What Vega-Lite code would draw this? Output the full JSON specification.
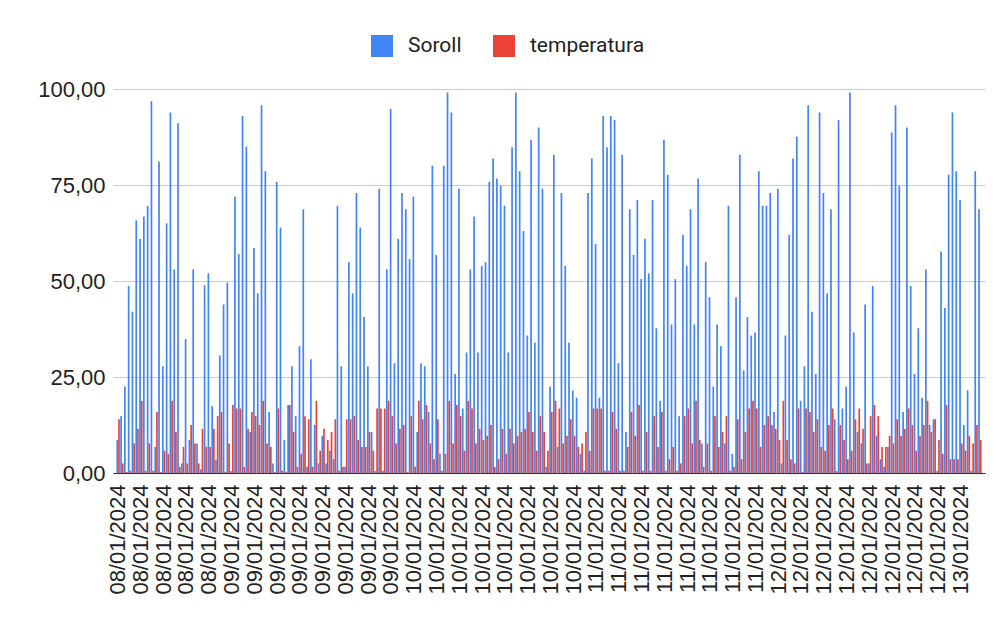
{
"$schema": "https://vega.github.io/schema/vega-lite/v6.json",
"width": 872, "height": 384,
"autosize": {"type": "none"},
"padding": {"left": 113, "top": 89, "right": 17, "bottom": 151},
"background": "white",
"data": {"values": [
{"t":"08/01/2024 000","Soroll":8.6,"temperatura":14.0},
{"t":"08/01/2024 001","Soroll":14.8,"temperatura":2.5},
{"t":"08/01/2024 002","Soroll":22.5,"temperatura":0.3},
{"t":"08/01/2024 003","Soroll":48.7,"temperatura":0.6},
{"t":"08/01/2024 004","Soroll":42.0,"temperatura":7.7},
{"t":"08/01/2024 005","Soroll":65.8,"temperatura":11.5},
{"t":"08/01/2024 006","Soroll":61.0,"temperatura":18.8},
{"t":"08/01/2024 007","Soroll":66.8,"temperatura":0.6},
{"t":"08/01/2024 008","Soroll":69.6,"temperatura":7.7},
{"t":"08/01/2024 009","Soroll":96.8,"temperatura":0.6},
{"t":"08/01/2024 010","Soroll":6.8,"temperatura":15.9},
{"t":"08/01/2024 011","Soroll":81.1,"temperatura":0.3},
{"t":"08/01/2024 012","Soroll":27.8,"temperatura":5.8},
{"t":"08/01/2024 013","Soroll":65.0,"temperatura":5.0},
{"t":"08/01/2024 014","Soroll":93.9,"temperatura":18.8},
{"t":"08/01/2024 015","Soroll":53.0,"temperatura":10.7},
{"t":"08/01/2024 016","Soroll":91.1,"temperatura":1.6},
{"t":"08/01/2024 017","Soroll":2.5,"temperatura":6.8},
{"t":"08/01/2024 018","Soroll":34.9,"temperatura":2.5},
{"t":"08/01/2024 019","Soroll":8.6,"temperatura":12.5},
{"t":"08/01/2024 020","Soroll":53.0,"temperatura":7.7},
{"t":"08/01/2024 021","Soroll":7.7,"temperatura":2.5},
{"t":"08/01/2024 022","Soroll":1.0,"temperatura":11.5},
{"t":"08/01/2024 023","Soroll":48.9,"temperatura":6.8},
{"t":"08/01/2024 024","Soroll":52.0,"temperatura":6.8},
{"t":"08/01/2024 025","Soroll":17.4,"temperatura":11.5},
{"t":"08/01/2024 026","Soroll":3.5,"temperatura":14.8},
{"t":"08/01/2024 027","Soroll":30.6,"temperatura":15.9},
{"t":"08/01/2024 028","Soroll":43.9,"temperatura":0.3},
{"t":"08/01/2024 029","Soroll":49.6,"temperatura":7.7},
{"t":"09/01/2024 030","Soroll":0.5,"temperatura":17.7},
{"t":"09/01/2024 031","Soroll":72.0,"temperatura":16.8},
{"t":"09/01/2024 032","Soroll":57.0,"temperatura":16.8},
{"t":"09/01/2024 033","Soroll":93.0,"temperatura":1.6},
{"t":"09/01/2024 034","Soroll":85.0,"temperatura":11.5},
{"t":"09/01/2024 035","Soroll":10.7,"temperatura":15.9},
{"t":"09/01/2024 036","Soroll":58.6,"temperatura":14.8},
{"t":"09/01/2024 037","Soroll":46.8,"temperatura":12.5},
{"t":"09/01/2024 038","Soroll":95.8,"temperatura":18.8},
{"t":"09/01/2024 039","Soroll":78.6,"temperatura":7.7},
{"t":"09/01/2024 040","Soroll":15.9,"temperatura":6.8},
{"t":"09/01/2024 041","Soroll":2.5,"temperatura":0.3},
{"t":"09/01/2024 042","Soroll":75.8,"temperatura":16.8},
{"t":"09/01/2024 043","Soroll":63.9,"temperatura":0.6},
{"t":"09/01/2024 044","Soroll":8.6,"temperatura":0.3},
{"t":"09/01/2024 045","Soroll":17.7,"temperatura":17.7},
{"t":"09/01/2024 046","Soroll":27.8,"temperatura":10.7},
{"t":"09/01/2024 047","Soroll":14.8,"temperatura":1.6},
{"t":"09/01/2024 048","Soroll":33.0,"temperatura":5.0},
{"t":"09/01/2024 049","Soroll":68.7,"temperatura":14.8},
{"t":"09/01/2024 050","Soroll":1.6,"temperatura":14.0},
{"t":"09/01/2024 051","Soroll":29.6,"temperatura":1.6},
{"t":"09/01/2024 052","Soroll":12.5,"temperatura":18.8},
{"t":"09/01/2024 053","Soroll":2.5,"temperatura":5.8},
{"t":"09/01/2024 054","Soroll":9.7,"temperatura":11.5},
{"t":"09/01/2024 055","Soroll":2.5,"temperatura":8.6},
{"t":"09/01/2024 056","Soroll":5.8,"temperatura":10.7},
{"t":"09/01/2024 057","Soroll":3.6,"temperatura":14.0},
{"t":"09/01/2024 058","Soroll":69.6,"temperatura":0.6},
{"t":"09/01/2024 059","Soroll":27.8,"temperatura":1.6},
{"t":"09/01/2024 060","Soroll":1.6,"temperatura":14.0},
{"t":"09/01/2024 061","Soroll":54.9,"temperatura":14.0},
{"t":"09/01/2024 062","Soroll":46.8,"temperatura":14.8},
{"t":"09/01/2024 063","Soroll":72.9,"temperatura":8.6},
{"t":"09/01/2024 064","Soroll":63.9,"temperatura":6.8},
{"t":"09/01/2024 065","Soroll":40.6,"temperatura":6.8},
{"t":"09/01/2024 066","Soroll":27.8,"temperatura":10.7},
{"t":"09/01/2024 067","Soroll":10.7,"temperatura":5.8},
{"t":"09/01/2024 068","Soroll":0.5,"temperatura":16.8},
{"t":"09/01/2024 069","Soroll":74.0,"temperatura":16.8},
{"t":"09/01/2024 070","Soroll":0.6,"temperatura":16.8},
{"t":"09/01/2024 071","Soroll":53.0,"temperatura":18.8},
{"t":"09/01/2024 072","Soroll":94.8,"temperatura":14.8},
{"t":"09/01/2024 073","Soroll":28.6,"temperatura":7.7},
{"t":"09/01/2024 074","Soroll":61.0,"temperatura":11.5},
{"t":"09/01/2024 075","Soroll":72.9,"temperatura":12.5},
{"t":"09/01/2024 076","Soroll":68.7,"temperatura":0.3},
{"t":"09/01/2024 077","Soroll":55.7,"temperatura":14.8},
{"t":"10/01/2024 078","Soroll":72.0,"temperatura":1.6},
{"t":"10/01/2024 079","Soroll":10.7,"temperatura":18.8},
{"t":"10/01/2024 080","Soroll":28.6,"temperatura":14.0},
{"t":"10/01/2024 081","Soroll":27.8,"temperatura":17.7},
{"t":"10/01/2024 082","Soroll":15.9,"temperatura":7.7},
{"t":"10/01/2024 083","Soroll":80.0,"temperatura":3.6},
{"t":"10/01/2024 084","Soroll":56.8,"temperatura":14.0},
{"t":"10/01/2024 085","Soroll":5.0,"temperatura":0.6},
{"t":"10/01/2024 086","Soroll":80.0,"temperatura":5.0},
{"t":"10/01/2024 087","Soroll":99.1,"temperatura":18.8},
{"t":"10/01/2024 088","Soroll":93.9,"temperatura":7.7},
{"t":"10/01/2024 089","Soroll":25.8,"temperatura":17.7},
{"t":"10/01/2024 090","Soroll":74.0,"temperatura":14.8},
{"t":"10/01/2024 091","Soroll":16.8,"temperatura":5.8},
{"t":"10/01/2024 092","Soroll":31.4,"temperatura":18.8},
{"t":"10/01/2024 093","Soroll":53.0,"temperatura":16.8},
{"t":"10/01/2024 094","Soroll":66.8,"temperatura":7.7},
{"t":"10/01/2024 095","Soroll":31.4,"temperatura":11.5},
{"t":"10/01/2024 096","Soroll":53.9,"temperatura":8.6},
{"t":"10/01/2024 097","Soroll":54.9,"temperatura":9.7},
{"t":"10/01/2024 098","Soroll":75.8,"temperatura":12.5},
{"t":"10/01/2024 099","Soroll":81.9,"temperatura":1.6},
{"t":"10/01/2024 100","Soroll":76.7,"temperatura":3.6},
{"t":"10/01/2024 101","Soroll":74.8,"temperatura":11.5},
{"t":"10/01/2024 102","Soroll":69.6,"temperatura":5.0},
{"t":"10/01/2024 103","Soroll":31.4,"temperatura":11.5},
{"t":"10/01/2024 104","Soroll":84.8,"temperatura":7.7},
{"t":"10/01/2024 105","Soroll":99.1,"temperatura":9.7},
{"t":"10/01/2024 106","Soroll":78.6,"temperatura":10.7},
{"t":"10/01/2024 107","Soroll":63.0,"temperatura":11.5},
{"t":"10/01/2024 108","Soroll":35.8,"temperatura":15.9},
{"t":"10/01/2024 109","Soroll":86.7,"temperatura":10.7},
{"t":"10/01/2024 110","Soroll":33.9,"temperatura":5.8},
{"t":"10/01/2024 111","Soroll":90.0,"temperatura":14.8},
{"t":"10/01/2024 112","Soroll":74.0,"temperatura":10.7},
{"t":"10/01/2024 113","Soroll":1.6,"temperatura":5.8},
{"t":"10/01/2024 114","Soroll":22.5,"temperatura":15.9},
{"t":"10/01/2024 115","Soroll":82.9,"temperatura":18.8},
{"t":"10/01/2024 116","Soroll":6.8,"temperatura":16.8},
{"t":"10/01/2024 117","Soroll":72.9,"temperatura":7.7},
{"t":"10/01/2024 118","Soroll":53.9,"temperatura":9.7},
{"t":"10/01/2024 119","Soroll":33.9,"temperatura":14.0},
{"t":"10/01/2024 120","Soroll":21.5,"temperatura":9.7},
{"t":"10/01/2024 121","Soroll":19.6,"temperatura":6.8},
{"t":"10/01/2024 122","Soroll":5.0,"temperatura":7.7},
{"t":"10/01/2024 123","Soroll":0.6,"temperatura":10.7},
{"t":"10/01/2024 124","Soroll":72.9,"temperatura":5.8},
{"t":"10/01/2024 125","Soroll":81.9,"temperatura":16.8},
{"t":"11/01/2024 126","Soroll":59.6,"temperatura":16.8},
{"t":"11/01/2024 127","Soroll":19.6,"temperatura":16.8},
{"t":"11/01/2024 128","Soroll":93.0,"temperatura":0.6},
{"t":"11/01/2024 129","Soroll":84.8,"temperatura":0.6},
{"t":"11/01/2024 130","Soroll":93.0,"temperatura":15.9},
{"t":"11/01/2024 131","Soroll":91.9,"temperatura":11.5},
{"t":"11/01/2024 132","Soroll":28.6,"temperatura":0.6},
{"t":"11/01/2024 133","Soroll":82.9,"temperatura":0.6},
{"t":"11/01/2024 134","Soroll":10.7,"temperatura":6.8},
{"t":"11/01/2024 135","Soroll":68.7,"temperatura":15.9},
{"t":"11/01/2024 136","Soroll":56.8,"temperatura":9.7},
{"t":"11/01/2024 137","Soroll":71.1,"temperatura":17.7},
{"t":"11/01/2024 138","Soroll":50.5,"temperatura":0.6},
{"t":"11/01/2024 139","Soroll":61.0,"temperatura":10.7},
{"t":"11/01/2024 140","Soroll":52.0,"temperatura":0.6},
{"t":"11/01/2024 141","Soroll":71.1,"temperatura":14.8},
{"t":"11/01/2024 142","Soroll":37.7,"temperatura":6.8},
{"t":"11/01/2024 143","Soroll":18.8,"temperatura":15.9},
{"t":"11/01/2024 144","Soroll":86.7,"temperatura":0.6},
{"t":"11/01/2024 145","Soroll":77.7,"temperatura":3.6},
{"t":"11/01/2024 146","Soroll":38.7,"temperatura":6.8},
{"t":"11/01/2024 147","Soroll":50.5,"temperatura":0.6},
{"t":"11/01/2024 148","Soroll":14.8,"temperatura":2.5},
{"t":"11/01/2024 149","Soroll":62.0,"temperatura":14.8},
{"t":"11/01/2024 150","Soroll":53.9,"temperatura":16.8},
{"t":"11/01/2024 151","Soroll":68.7,"temperatura":7.7},
{"t":"11/01/2024 152","Soroll":38.7,"temperatura":18.8},
{"t":"11/01/2024 153","Soroll":76.7,"temperatura":8.6},
{"t":"11/01/2024 154","Soroll":7.7,"temperatura":1.6},
{"t":"11/01/2024 155","Soroll":54.9,"temperatura":7.7},
{"t":"11/01/2024 156","Soroll":45.8,"temperatura":0.6},
{"t":"11/01/2024 157","Soroll":22.5,"temperatura":14.8},
{"t":"11/01/2024 158","Soroll":38.7,"temperatura":6.8},
{"t":"11/01/2024 159","Soroll":33.0,"temperatura":10.7},
{"t":"11/01/2024 160","Soroll":7.7,"temperatura":14.8},
{"t":"11/01/2024 161","Soroll":69.6,"temperatura":0.6},
{"t":"11/01/2024 162","Soroll":5.0,"temperatura":1.6},
{"t":"11/01/2024 163","Soroll":45.8,"temperatura":14.0},
{"t":"11/01/2024 164","Soroll":82.9,"temperatura":3.6},
{"t":"11/01/2024 165","Soroll":26.7,"temperatura":10.7},
{"t":"11/01/2024 166","Soroll":40.6,"temperatura":16.8},
{"t":"11/01/2024 167","Soroll":35.8,"temperatura":18.8},
{"t":"11/01/2024 168","Soroll":36.6,"temperatura":16.8},
{"t":"11/01/2024 169","Soroll":78.6,"temperatura":6.8},
{"t":"11/01/2024 170","Soroll":69.6,"temperatura":12.5},
{"t":"11/01/2024 171","Soroll":69.6,"temperatura":14.8},
{"t":"11/01/2024 172","Soroll":72.9,"temperatura":12.5},
{"t":"11/01/2024 173","Soroll":15.9,"temperatura":11.5},
{"t":"12/01/2024 174","Soroll":74.0,"temperatura":8.6},
{"t":"12/01/2024 175","Soroll":2.5,"temperatura":18.8},
{"t":"12/01/2024 176","Soroll":35.8,"temperatura":8.6},
{"t":"12/01/2024 177","Soroll":62.0,"temperatura":3.6},
{"t":"12/01/2024 178","Soroll":81.9,"temperatura":2.5},
{"t":"12/01/2024 179","Soroll":87.6,"temperatura":16.8},
{"t":"12/01/2024 180","Soroll":18.8,"temperatura":0.3},
{"t":"12/01/2024 181","Soroll":27.8,"temperatura":16.8},
{"t":"12/01/2024 182","Soroll":95.8,"temperatura":15.9},
{"t":"12/01/2024 183","Soroll":42.0,"temperatura":10.7},
{"t":"12/01/2024 184","Soroll":25.8,"temperatura":14.0},
{"t":"12/01/2024 185","Soroll":93.9,"temperatura":6.8},
{"t":"12/01/2024 186","Soroll":72.9,"temperatura":5.8},
{"t":"12/01/2024 187","Soroll":46.8,"temperatura":12.5},
{"t":"12/01/2024 188","Soroll":68.7,"temperatura":16.8},
{"t":"12/01/2024 189","Soroll":14.0,"temperatura":0.5},
{"t":"12/01/2024 190","Soroll":91.9,"temperatura":12.5},
{"t":"12/01/2024 191","Soroll":16.8,"temperatura":8.6},
{"t":"12/01/2024 192","Soroll":22.5,"temperatura":3.6},
{"t":"12/01/2024 193","Soroll":99.1,"temperatura":5.8},
{"t":"12/01/2024 194","Soroll":36.6,"temperatura":14.0},
{"t":"12/01/2024 195","Soroll":10.7,"temperatura":16.8},
{"t":"12/01/2024 196","Soroll":7.7,"temperatura":11.5},
{"t":"12/01/2024 197","Soroll":43.9,"temperatura":2.5},
{"t":"12/01/2024 198","Soroll":2.5,"temperatura":14.8},
{"t":"12/01/2024 199","Soroll":48.7,"temperatura":17.7},
{"t":"12/01/2024 200","Soroll":9.7,"temperatura":14.8},
{"t":"12/01/2024 201","Soroll":3.6,"temperatura":6.8},
{"t":"12/01/2024 202","Soroll":1.6,"temperatura":6.8},
{"t":"12/01/2024 203","Soroll":6.8,"temperatura":9.7},
{"t":"12/01/2024 204","Soroll":88.7,"temperatura":7.7},
{"t":"12/01/2024 205","Soroll":95.8,"temperatura":14.0},
{"t":"12/01/2024 206","Soroll":74.8,"temperatura":9.7},
{"t":"12/01/2024 207","Soroll":15.9,"temperatura":11.5},
{"t":"12/01/2024 208","Soroll":90.0,"temperatura":16.8},
{"t":"12/01/2024 209","Soroll":48.7,"temperatura":12.5},
{"t":"12/01/2024 210","Soroll":25.8,"temperatura":5.8},
{"t":"12/01/2024 211","Soroll":37.7,"temperatura":9.7},
{"t":"12/01/2024 212","Soroll":19.6,"temperatura":12.5},
{"t":"12/01/2024 213","Soroll":53.0,"temperatura":18.8},
{"t":"12/01/2024 214","Soroll":12.5,"temperatura":10.7},
{"t":"12/01/2024 215","Soroll":14.0,"temperatura":14.0},
{"t":"12/01/2024 216","Soroll":0.6,"temperatura":8.6},
{"t":"12/01/2024 217","Soroll":57.7,"temperatura":5.0},
{"t":"12/01/2024 218","Soroll":43.0,"temperatura":17.7},
{"t":"12/01/2024 219","Soroll":77.7,"temperatura":3.6},
{"t":"12/01/2024 220","Soroll":93.9,"temperatura":3.6},
{"t":"12/01/2024 221","Soroll":78.6,"temperatura":3.6},
{"t":"13/01/2024 222","Soroll":71.1,"temperatura":7.7},
{"t":"13/01/2024 223","Soroll":12.5,"temperatura":5.8},
{"t":"13/01/2024 224","Soroll":21.5,"temperatura":9.7},
{"t":"13/01/2024 225","Soroll":0.6,"temperatura":7.7},
{"t":"13/01/2024 226","Soroll":78.6,"temperatura":12.5},
{"t":"13/01/2024 227","Soroll":68.7,"temperatura":8.6}
]},
"transform": [{"fold": ["Soroll", "temperatura"], "as": ["serie", "valor"]}],
"mark": {"type": "bar"},
"encoding": {
  "x": {"field": "t", "type": "nominal", "sort": null, "title": null,
    "scale": {"paddingInner": 0.1, "paddingOuter": 0.9},
    "axis": {
      "values": ["08/01/2024 000","08/01/2024 006","08/01/2024 012","08/01/2024 018","08/01/2024 024","09/01/2024 030","09/01/2024 036","09/01/2024 042","09/01/2024 048","09/01/2024 054","09/01/2024 060","09/01/2024 066","09/01/2024 072","10/01/2024 078","10/01/2024 084","10/01/2024 090","10/01/2024 096","10/01/2024 102","10/01/2024 108","10/01/2024 114","10/01/2024 120","11/01/2024 126","11/01/2024 132","11/01/2024 138","11/01/2024 144","11/01/2024 150","11/01/2024 156","11/01/2024 162","11/01/2024 168","12/01/2024 174","12/01/2024 180","12/01/2024 186","12/01/2024 192","12/01/2024 198","12/01/2024 204","12/01/2024 210","12/01/2024 216","13/01/2024 222"],
      "labelExpr": "substring(datum.label, 0, 10)",
      "labelAngle": -90, "labelFont": "Liberation Sans", "labelFontSize": 22,
      "labelColor": "#222222", "ticks": false, "labelPadding": 11,
      "domain": true, "domainColor": "#333333", "domainWidth": 1,
      "grid": false, "labelOverlap": false, "labelBound": false
    }
  },
  "xOffset": {"field": "serie", "type": "nominal", "sort": ["Soroll", "temperatura"], "scale": {"paddingInner": 0, "paddingOuter": 0}},
  "y": {"field": "valor", "type": "quantitative", "title": null,
    "scale": {"domain": [0, 100], "nice": false},
    "axis": {
      "values": [0, 25, 50, 75, 100],
      "labelExpr": "replace(format(datum.value, '.2f'), '.', ',')",
      "labelFont": "Liberation Sans", "labelFontSize": 22, "labelColor": "#222222",
      "domain": false, "ticks": false, "labelPadding": 8,
      "grid": true, "gridColor": "#cccccc", "gridWidth": 1
    }
  },
  "color": {"field": "serie", "type": "nominal",
    "scale": {"domain": ["Soroll", "temperatura"], "range": ["#4285F4", "#EA4335"]},
    "legend": {
      "orient": "none", "legendX": 258, "legendY": -54, "direction": "horizontal",
      "title": null, "symbolType": "square", "symbolSize": 484, "symbolStrokeWidth": 0,
      "symbolOpacity": 1, "labelFont": "Roboto", "labelFontSize": 21, "labelColor": "#222222",
      "labelOffset": 15, "columnPadding": 31, "padding": 0
    }
  }
},
"config": {"view": {"stroke": null}}
}
